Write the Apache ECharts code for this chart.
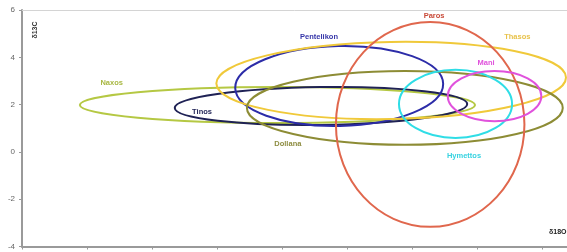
<!DOCTYPE html>
<html>
<head>
<meta charset="utf-8">
<script src="https://cdn.jsdelivr.net/npm/echarts@6/dist/echarts.min.js"></script>
<style>
  html, body { margin: 0; padding: 0; background: #fff; }
  #main { width: 567px; height: 252px; }
</style>
</head>
<body>
<div id="main"></div>
<script>
// marble fields (d18O along x, d13C along y)
var names   = ['Naxos', 'Tinos', 'Pentelikon', 'Thasos', 'Dollana', 'Paros', 'Hymettos', 'Mani'];
var centerX = [-4.07, -3.40, -3.12, -2.32, -2.11, -1.72, -1.33, -0.73];
var centerY = [1.98, 1.94, 2.79, 3.02, 1.86, 1.16, 2.03, 2.36];
var radiusX = [3.04, 2.25, 1.60, 2.69, 2.43, 1.45, 0.87, 0.72];
var radiusY = [0.76, 0.80, 1.69, 1.63, 1.56, 4.33, 1.44, 1.06];
var tiltDeg = [0, 0.8, 1.2, 1.0, 0, 0, 0, 0];
var labelX  = [-6.62, -5.23, -3.43, -0.38, -3.91, -1.66, -1.20, -0.86];
var labelY  = [2.91, 1.69, 4.86, 4.86, 0.33, 5.75, -0.17, 3.76];
var yTicks  = [-4, -2, 0, 2, 4, 6];
var xMin = -8, xMax = 0.385;

var colors = ['#b5c843', '#1f2255', '#2c2ca8', '#f0c93a', '#8d8c35', '#e0674d', '#2fdde6', '#e052dc'];
var labelColors = ['#a9b844', '#1f2255', '#3535a8', '#e8c24a', '#8d8c40', '#c94a38', '#35d2e0', '#e052dc'];

var chart = echarts.init(document.getElementById('main'));

var rows = names.map(function (n, i) {
    return [centerX[i], centerY[i], radiusX[i], radiusY[i], tiltDeg[i], labelX[i], labelY[i]];
});

var option = {
    animation: false,
    grid: {left: 22, top: 10, right: 0, height: 236.5},
    xAxis: [{
        type: 'value', min: xMin, max: xMax, interval: 1,
        axisLine: {onZero: false, lineStyle: {color: '#9a9a9a', width: 2}},
        axisTick: {show: true, length: 3, lineStyle: {color: '#9a9a9a'}},
        axisLabel: {show: false},
        splitLine: {show: false}
    }, {
        // plain top border of the plot area
        type: 'value', position: 'top', min: xMin, max: xMax,
        axisLine: {show: true, onZero: false, lineStyle: {color: '#d4d4d4', width: 1}},
        axisTick: {show: false},
        axisLabel: {show: false},
        splitLine: {show: false}
    }],
    yAxis: {
        type: 'value', min: yTicks[0], max: yTicks[yTicks.length - 1], interval: 2,
        axisLine: {show: true, onZero: false, lineStyle: {color: '#9a9a9a', width: 2}},
        axisTick: {show: true, length: 3, lineStyle: {color: '#9a9a9a'}},
        axisLabel: {color: '#666', fontSize: 8, margin: 7, fontFamily: 'Liberation Sans'},
        splitLine: {show: false}
    },
    graphic: [
        {type: 'text', x: 35, y: 30, rotation: Math.PI / 2,
            style: {text: 'δ13C', fill: '#333', font: 'bold 7px Liberation Sans', align: 'center', verticalAlign: 'middle'}},
        {type: 'text', x: 549, y: 232,
            style: {text: 'δ18O', fill: '#222', font: 'bold 7px Liberation Sans', align: 'left', verticalAlign: 'middle'}}
    ],
    series: [{
        type: 'custom',
        coordinateSystem: 'cartesian2d',
        data: rows,
        renderItem: function (params, api) {
            var i = params.dataIndex;
            var c = api.coord([api.value(0), api.value(1)]);
            var s = api.size([api.value(2), api.value(3)]);
            var l = api.coord([api.value(5), api.value(6)]);
            return {
                type: 'group',
                children: [{
                    type: 'ellipse',
                    shape: {cx: c[0], cy: c[1], rx: s[0], ry: s[1]},
                    rotation: api.value(4) * Math.PI / 180,
                    originX: c[0], originY: c[1],
                    style: {fill: 'none', stroke: colors[i], lineWidth: 2}
                }, {
                    type: 'text',
                    x: l[0], y: l[1],
                    style: {
                        text: names[i], fill: labelColors[i],
                        font: 'bold 7.5px Liberation Sans', align: 'center', verticalAlign: 'middle'
                    }
                }]
            };
        }
    }]
};

chart.setOption(option);
</script>
</body>
</html>
